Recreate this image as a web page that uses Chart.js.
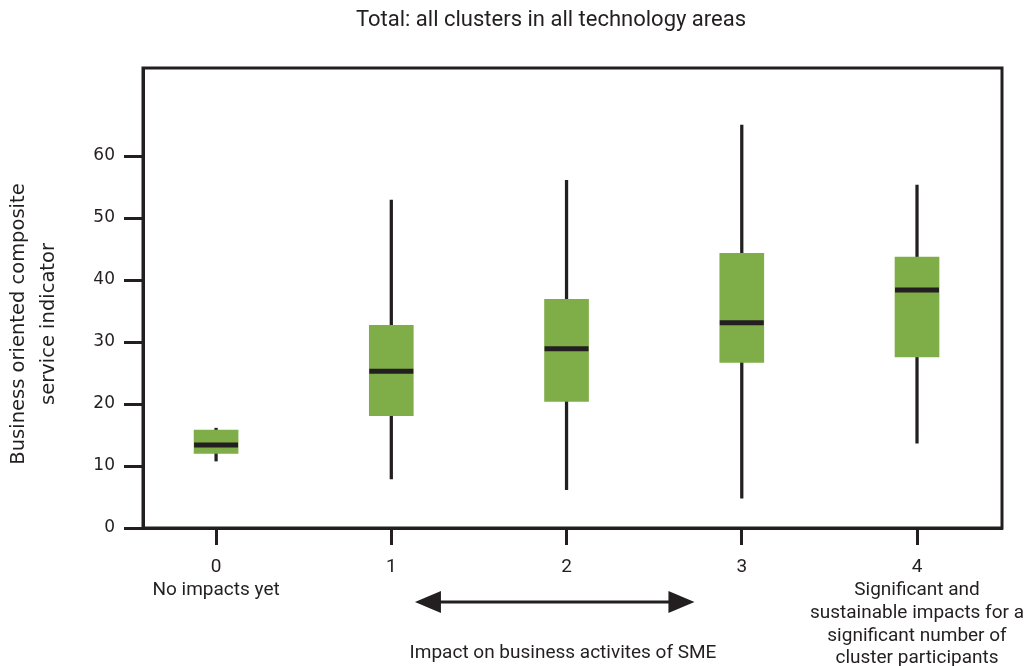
<!DOCTYPE html>
<html>
<head>
<meta charset="utf-8">
<script src="https://cdn.jsdelivr.net/npm/chart.js@4.4.1/dist/chart.umd.min.js"></script>
<style>
html,body{margin:0;padding:0;background:#fff;}
canvas{display:block;}
</style>
</head>
<body>
<canvas id="c" width="1030" height="666"></canvas>
<script>
// ---- data ----
const categories = [0, 1, 2, 3, 4];
const categoryLabels = [
  ['0', 'No impacts yet'],
  ['1'],
  ['2'],
  ['3'],
  ['4', 'Significant and', 'sustainable impacts for a', 'significant number of', 'cluster participants']
];
const whiskerLow  = [10.8, 7.9, 6.2, 4.8, 13.7];
const quartile1   = [12.05, 18.1, 20.4, 26.7, 27.6];
const medians     = [13.4, 25.3, 28.9, 33.1, 38.4];
const quartile3   = [15.8, 32.7, 36.9, 44.3, 43.7];
const whiskerHigh = [16.1, 52.9, 56.1, 65.0, 55.3];
const yTicks = [0, 10, 20, 30, 40, 50, 60];
const chartTitle = 'Total: all clusters in all technology areas';
const yTitle = ['Business oriented composite', 'service indicator'];
const xTitle = 'Impact on business activites of SME';

const INK = '#231f20';
const GREEN = '#7fad47';
const condensed = "Roboto, 'Liberation Sans', sans-serif";
const plain = "'DejaVu Sans', Verdana, sans-serif";

const annotations = {
  id: 'annotations',
  afterDraw(chart) {
    const ctx = chart.ctx;
    const a = chart.chartArea;
    const xs = chart.scales.x;
    ctx.save();
    // frame
    ctx.strokeStyle = INK;
    ctx.lineWidth = 3;
    ctx.strokeRect(a.left, a.top, a.right - a.left, a.bottom - a.top);
    // title
    ctx.fillStyle = INK;
    ctx.font = "22px " + condensed;
    ctx.textAlign = 'center';
    ctx.textBaseline = 'middle';
    ctx.fillText(chartTitle, 551, 20);
    // y title
    ctx.font = "19.5px " + plain;
    ctx.save();
    ctx.translate(19, 324);
    ctx.rotate(-Math.PI / 2);
    ctx.fillText(yTitle[0], 0, 0);
    ctx.fillText(yTitle[1], 0, 30);
    ctx.restore();
    // arrow
    const x1 = xs.getPixelForValue(1.135), x2 = xs.getPixelForValue(2.73);
    const ay = 602;
    ctx.beginPath();
    ctx.moveTo(x1 + 20, ay);
    ctx.lineTo(x2 - 20, ay);
    ctx.lineWidth = 3;
    ctx.stroke();
    ctx.beginPath();
    ctx.moveTo(x1, ay); ctx.lineTo(x1 + 26, ay - 11); ctx.lineTo(x1 + 26, ay + 11); ctx.closePath();
    ctx.fill();
    ctx.beginPath();
    ctx.moveTo(x2, ay); ctx.lineTo(x2 - 26, ay - 11); ctx.lineTo(x2 - 26, ay + 11); ctx.closePath();
    ctx.fill();
    // x title
    ctx.font = "19px " + condensed;
    ctx.fillText(xTitle, 563, 653);
    ctx.restore();
  }
};

new Chart(document.getElementById('c'), {
  type: 'bar',
  data: {
    datasets: [
      {
        type: 'line',
        data: categories.map((c, i) => ({ x: c, y: medians[i] })),
        showLine: false,
        pointStyle: 'line',
        pointRadius: 22,
        pointBorderWidth: 5,
        pointBorderColor: INK,
        pointBackgroundColor: INK,
        order: 0
      },
      {
        data: categories.map((c, i) => ({ x: c, y: [quartile1[i], quartile3[i]] })),
        backgroundColor: GREEN,
        borderWidth: 0,
        barThickness: 44,
        grouped: false,
        order: 1
      },
      {
        data: categories.map((c, i) => ({ x: c, y: [whiskerLow[i], whiskerHigh[i]] })),
        backgroundColor: INK,
        borderWidth: 0,
        barThickness: 2.6,
        grouped: false,
        order: 2
      }
    ]
  },
  options: {
    responsive: false,
    animation: false,
    events: [],
    devicePixelRatio: 1,
    layout: { padding: { top: 68, right: 28, left: 0, bottom: 0 } },
    plugins: { legend: { display: false }, tooltip: { enabled: false }, title: { display: false } },
    scales: {
      x: {
        type: 'linear',
        offset: false,
        min: -0.417,
        max: 4.485,
        afterBuildTicks(s) { s.ticks = categories.map(v => ({ value: v })); },
        afterFit(s) { s.height = 138; s.paddingLeft = 0; s.paddingRight = 0; },
        grid: { offset: false, drawOnChartArea: false, drawTicks: true, tickLength: 17, tickWidth: 3, tickColor: INK },
        border: { display: true, width: 3, color: INK },
        ticks: {
          autoSkip: false,
          maxRotation: 0,
          padding: 11,
          color: INK,
          font: { family: condensed, size: 19, lineHeight: 1.2 },
          callback(v) { const i = categories.indexOf(v); return i >= 0 ? categoryLabels[i] : ''; }
        }
      },
      y: {
        min: 0,
        max: 74.2,
        afterBuildTicks(s) { s.ticks = yTicks.map(v => ({ value: v })); },
        afterFit(s) { s.width = 143; },
        grid: { drawOnChartArea: false, drawTicks: true, tickLength: 19, tickWidth: 3, tickColor: INK },
        border: { display: true, width: 3, color: INK },
        ticks: { padding: 9, color: INK, font: { family: plain, size: 17 } }
      }
    }
  },
  plugins: [annotations]
});
</script>
</body>
</html>
